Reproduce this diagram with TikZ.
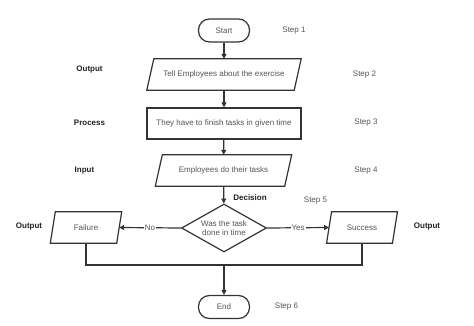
\documentclass[tikz,border=0pt]{standalone}
\usepackage{fontspec}
\setmainfont{Liberation Sans}
\usetikzlibrary{shapes.geometric,arrows.meta}
\definecolor{ln}{HTML}{333333}
\definecolor{tx}{HTML}{555555}
\definecolor{lb}{HTML}{222222}
\begin{document}
\begin{tikzpicture}[x=1pt,y=-1pt,
  font=\fontsize{8}{9.5}\selectfont,
  term/.style={draw=ln, line width=1.2pt, rounded corners=11pt, minimum width=51pt, minimum height=23pt, inner sep=0pt, text=tx},
  procbox/.style={draw=ln, line width=1.2pt, minimum width=154pt, minimum height=31pt, inner sep=0pt, text=tx},
  pbox/.style={minimum height=31pt, inner sep=0pt, text=tx},
  pline/.style={draw=ln, line width=1.2pt, line join=miter},
  dec/.style={diamond, draw=ln, line width=1.2pt, minimum width=85pt, minimum height=48pt, shape aspect=1.77, inner sep=0pt, align=center, text=tx},
  lab/.style={font=\fontsize{8}{9.5}\selectfont\bfseries, text=lb},
  stp/.style={text=tx},
  conn/.style={draw=ln, line width=1.2pt},
  arr/.style={draw=ln, line width=1.2pt, -{Triangle[length=5pt,width=5pt]}},
  yn/.style={fill=white, inner sep=1pt, text=tx}]
\useasboundingbox[fill=white] (0,0) rectangle (474,326);

% nodes
\node[term] (start) at (224,30.5) {Start};
\node[pbox, minimum width=147pt] (p1) at (224,74.5) {Tell Employees about the exercise};
\node[procbox] (proc) at (224,123.5) {They have to finish tasks in given time};
\node[pbox, minimum width=129pt] (p2) at (223.5,170.5) {Employees do their tasks};
\node[dec] (dec) at (224,228) {Was the task\\done in time};
\node[pbox, minimum width=66pt] (fail) at (86,227.5) {Failure};
\node[pbox, minimum width=65.5pt] (succ) at (362,227.5) {Success};
\node[term] (end) at (224,307) {End};
\coordinate (m) at (224,265);

% parallelogram outlines
\draw[pline] ([xshift=3.5pt]p1.north west) -- ([xshift=3.5pt]p1.north east) -- ([xshift=-3.5pt]p1.south east) -- ([xshift=-3.5pt]p1.south west) -- cycle;
\draw[pline] ([xshift=3.5pt]p2.north west) -- ([xshift=3.5pt]p2.north east) -- ([xshift=-3.5pt]p2.south east) -- ([xshift=-3.5pt]p2.south west) -- cycle;
\draw[pline] ([xshift=2.5pt]fail.north west) -- ([xshift=2.5pt]fail.north east) -- ([xshift=-2.5pt]fail.south east) -- ([xshift=-2.5pt]fail.south west) -- cycle;
\draw[pline] ([xshift=2.5pt]succ.north west) -- ([xshift=2.5pt]succ.north east) -- ([xshift=-2.5pt]succ.south east) -- ([xshift=-2.5pt]succ.south west) -- cycle;

% connectors
\draw[arr] (start) -- (p1);
\draw[arr] (p1) -- (proc);
\draw[arr] (proc) -- (p2);
\draw[arr] (p2) -- (dec);
\draw[arr] (dec.west) -- node[yn] {No} (fail.east);
\draw[arr] (dec.east) -- node[yn] {Yes} (succ.west);
\draw[conn] (fail.south) |- (m) -| (succ.south);
\draw[arr] (m) -- (end);

% side labels
\node[lab] (l1) at (89.5,70) {Output};
\node[lab] (l2) at (89.5,123) {Process};
\node[lab] (l3) at (84.5,171) {Input};
\node[lab] (l4) at (250,198) {Decision};
\node[lab] (l5) at (29,227) {Output};
\node[lab] (l6) at (427,227) {Output};

\node[stp] (s1) at (294,31) {Step 1};
\node[stp] (s2) at (364.5,75) {Step 2};
\node[stp] (s3) at (366,123) {Step 3};
\node[stp] (s4) at (366,171) {Step 4};
\node[stp] (s5) at (315.5,201) {Step 5};
\node[stp] (s6) at (286.5,307) {Step 6};
\end{tikzpicture}
\end{document}
